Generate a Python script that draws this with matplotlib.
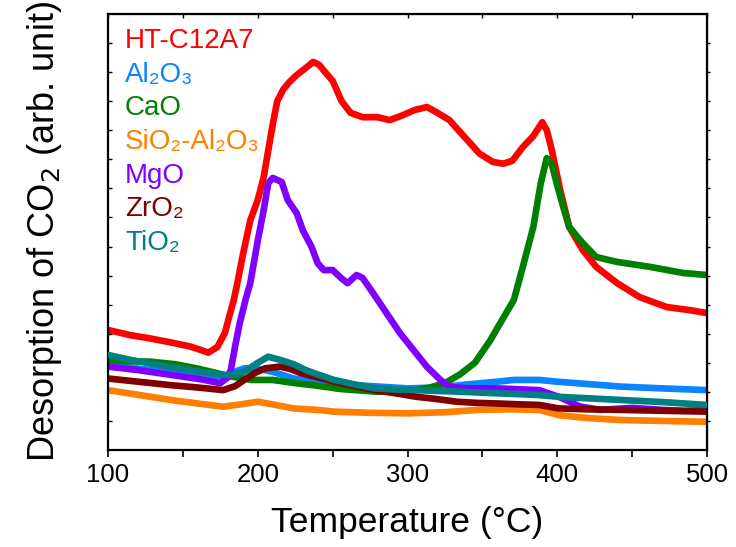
import matplotlib
matplotlib.use("Agg")
import matplotlib.pyplot as plt

plt.rcParams['font.family'] = ['Liberation Sans', 'DejaVu Sans']

# ---- data ----
x_ht = [100,115,128,142,155,162,167,173,178,181,184,187,190,195,200,204,207,210,213,217,221,226,231,237,241,245,250,256,262,270,280,288,296,305,313,320,328,334,340,348,357,364,370,377,384,390,393,396,402,408,417,426,440,455,473,490,500]
y_ht = [4.13,3.95,3.84,3.70,3.56,3.44,3.35,3.54,4.02,4.6,5.16,5.9,6.7,7.9,8.6,9.4,10.3,11.2,12.0,12.4,12.65,12.9,13.1,13.35,13.25,13.0,12.7,12.0,11.6,11.45,11.45,11.35,11.5,11.7,11.8,11.6,11.35,11.0,10.66,10.2,9.91,9.85,9.95,10.42,10.8,11.28,11.0,10.4,8.94,7.67,6.88,6.30,5.74,5.26,4.92,4.80,4.71]

x_al = [100,120,142,160,177,185,191,200,210,224,237,251,275,300,320,347,360,371,388,400,415,443,470,500]
y_al = [2.92,2.8,2.69,2.6,2.52,2.7,2.81,2.8,2.69,2.46,2.35,2.29,2.2,2.12,2.15,2.29,2.35,2.41,2.41,2.35,2.29,2.18,2.12,2.06]

x_cao = [100,115,128,145,160,169,180,196,210,225,237,255,278,295,306,315,325,335,345,355,362,371,377,384,389,393,396,400,404,408,417,426,440,462,484,500]
y_cao = [3.10,3.05,3.04,2.95,2.8,2.69,2.55,2.41,2.41,2.3,2.23,2.1,2.01,2.0,2.06,2.15,2.3,2.6,3.0,3.75,4.37,5.16,6.3,7.67,9.18,10.04,9.9,9.1,8.36,7.67,7.12,6.64,6.47,6.30,6.09,6.02]

x_si = [100,120,142,160,177,190,200,212,224,240,251,275,300,325,347,370,388,401,420,443,470,500]
y_si = [2.06,1.9,1.72,1.6,1.49,1.58,1.66,1.55,1.43,1.38,1.32,1.28,1.26,1.3,1.38,1.4,1.38,1.20,1.1,1.03,1.0,0.97]

x_mg = [100,120,140,160,175,180,182,185,188,192,195,200,204,207,210,216,220,226,230,236,240,244,250,256,260,266,270,277,286,295,304,313,322,328,340,360,388,401,415,429,450,470,485,500]
y_mg = [2.87,2.75,2.6,2.45,2.30,2.5,2.75,3.6,4.37,5.2,5.74,7.2,8.26,9.18,9.36,9.22,8.60,8.15,7.57,6.98,6.43,6.19,6.19,5.9,5.74,6.02,5.92,5.40,4.71,4.02,3.44,2.86,2.41,2.17,2.12,2.12,2.06,1.83,1.5,1.38,1.45,1.38,1.35,1.38]

x_zr = [100,120,142,160,177,185,191,198,205,215,222,229,240,251,265,278,292,306,320,333,347,360,375,388,401,420,443,470,500]
y_zr = [2.46,2.35,2.23,2.15,2.06,2.2,2.41,2.65,2.81,2.87,2.78,2.64,2.5,2.35,2.2,2.06,1.95,1.83,1.75,1.66,1.62,1.60,1.57,1.55,1.43,1.4,1.38,1.35,1.32]

x_ti = [100,115,128,142,155,167,177,185,191,200,207,215,224,232,240,251,265,278,292,306,320,333,347,360,375,388,401,420,443,470,500]
y_ti = [3.27,3.1,2.98,2.85,2.75,2.65,2.58,2.6,2.69,3.0,3.21,3.1,2.95,2.75,2.6,2.41,2.25,2.12,2.08,2.06,2.03,2.01,1.98,1.95,1.92,1.89,1.83,1.78,1.72,1.65,1.55]

labels = ["HT-C12A7", "Al\u2082O\u2083", "CaO", "SiO\u2082-Al\u2082O\u2083", "MgO", "ZrO\u2082", "TiO\u2082"]
colors = ["#FF0000", "#0A84FF", "#008000", "#FF8000", "#8000FF", "#800000", "#008080"]
xticks = [100, 200, 300, 400, 500]

# ---- figure ----
fig = plt.figure(figsize=(7.36, 5.47), dpi=100)
ax = fig.add_axes([108/736, 97/547, 599/736, 436/547])

series = [(x_ht, y_ht), (x_al, y_al), (x_cao, y_cao), (x_si, y_si),
          (x_mg, y_mg), (x_zr, y_zr), (x_ti, y_ti)]
order = [3, 5, 1, 0, 2, 4, 6]
for i in order:
    xs, ys = series[i]
    ax.plot(xs, ys, color=colors[i], lw=4.8, solid_joinstyle='round', solid_capstyle='round', zorder=2 + i * 0.1)

ax.set_xlim(100, 500)
ax.set_ylim(0, 15)
ax.set_xticks(xticks)
ax.set_xticks(range(150, 500, 100), minor=True)
ax.set_yticks(range(1, 15))
ax.set_yticklabels([])
ax.tick_params(axis='x', which='both', direction='out', length=5, width=1.2, labelsize=18.5, pad=4)
ax.tick_params(axis='y', which='both', direction='in', length=3, width=1.0)
for s in ax.spines.values():
    s.set_linewidth(1.6)

top = ax.secondary_xaxis('top')
top.set_xticks(range(100, 501, 50))
top.set_xticklabels([])
top.tick_params(direction='in', length=3, width=1.0)
right = ax.secondary_yaxis('right')
right.set_yticks(range(1, 15))
right.set_yticklabels([])
right.tick_params(direction='out', length=2, width=1.0)

ax.set_xlabel("Temperature (\u00b0C)", fontsize=25.5, labelpad=14)
ax.set_ylabel("Desorption of CO$_2$ (arb. unit)", fontsize=26, labelpad=28)

y0 = (450 - 41) / 436
dy = 33.7 / 436
for k, (lab, c) in enumerate(zip(labels, colors)):
    ax.text(17/599, y0 - k * dy, lab, color=c, fontsize=20, transform=ax.transAxes,
            ha='left', va='center')

fig.savefig("out.png", dpi=100)
